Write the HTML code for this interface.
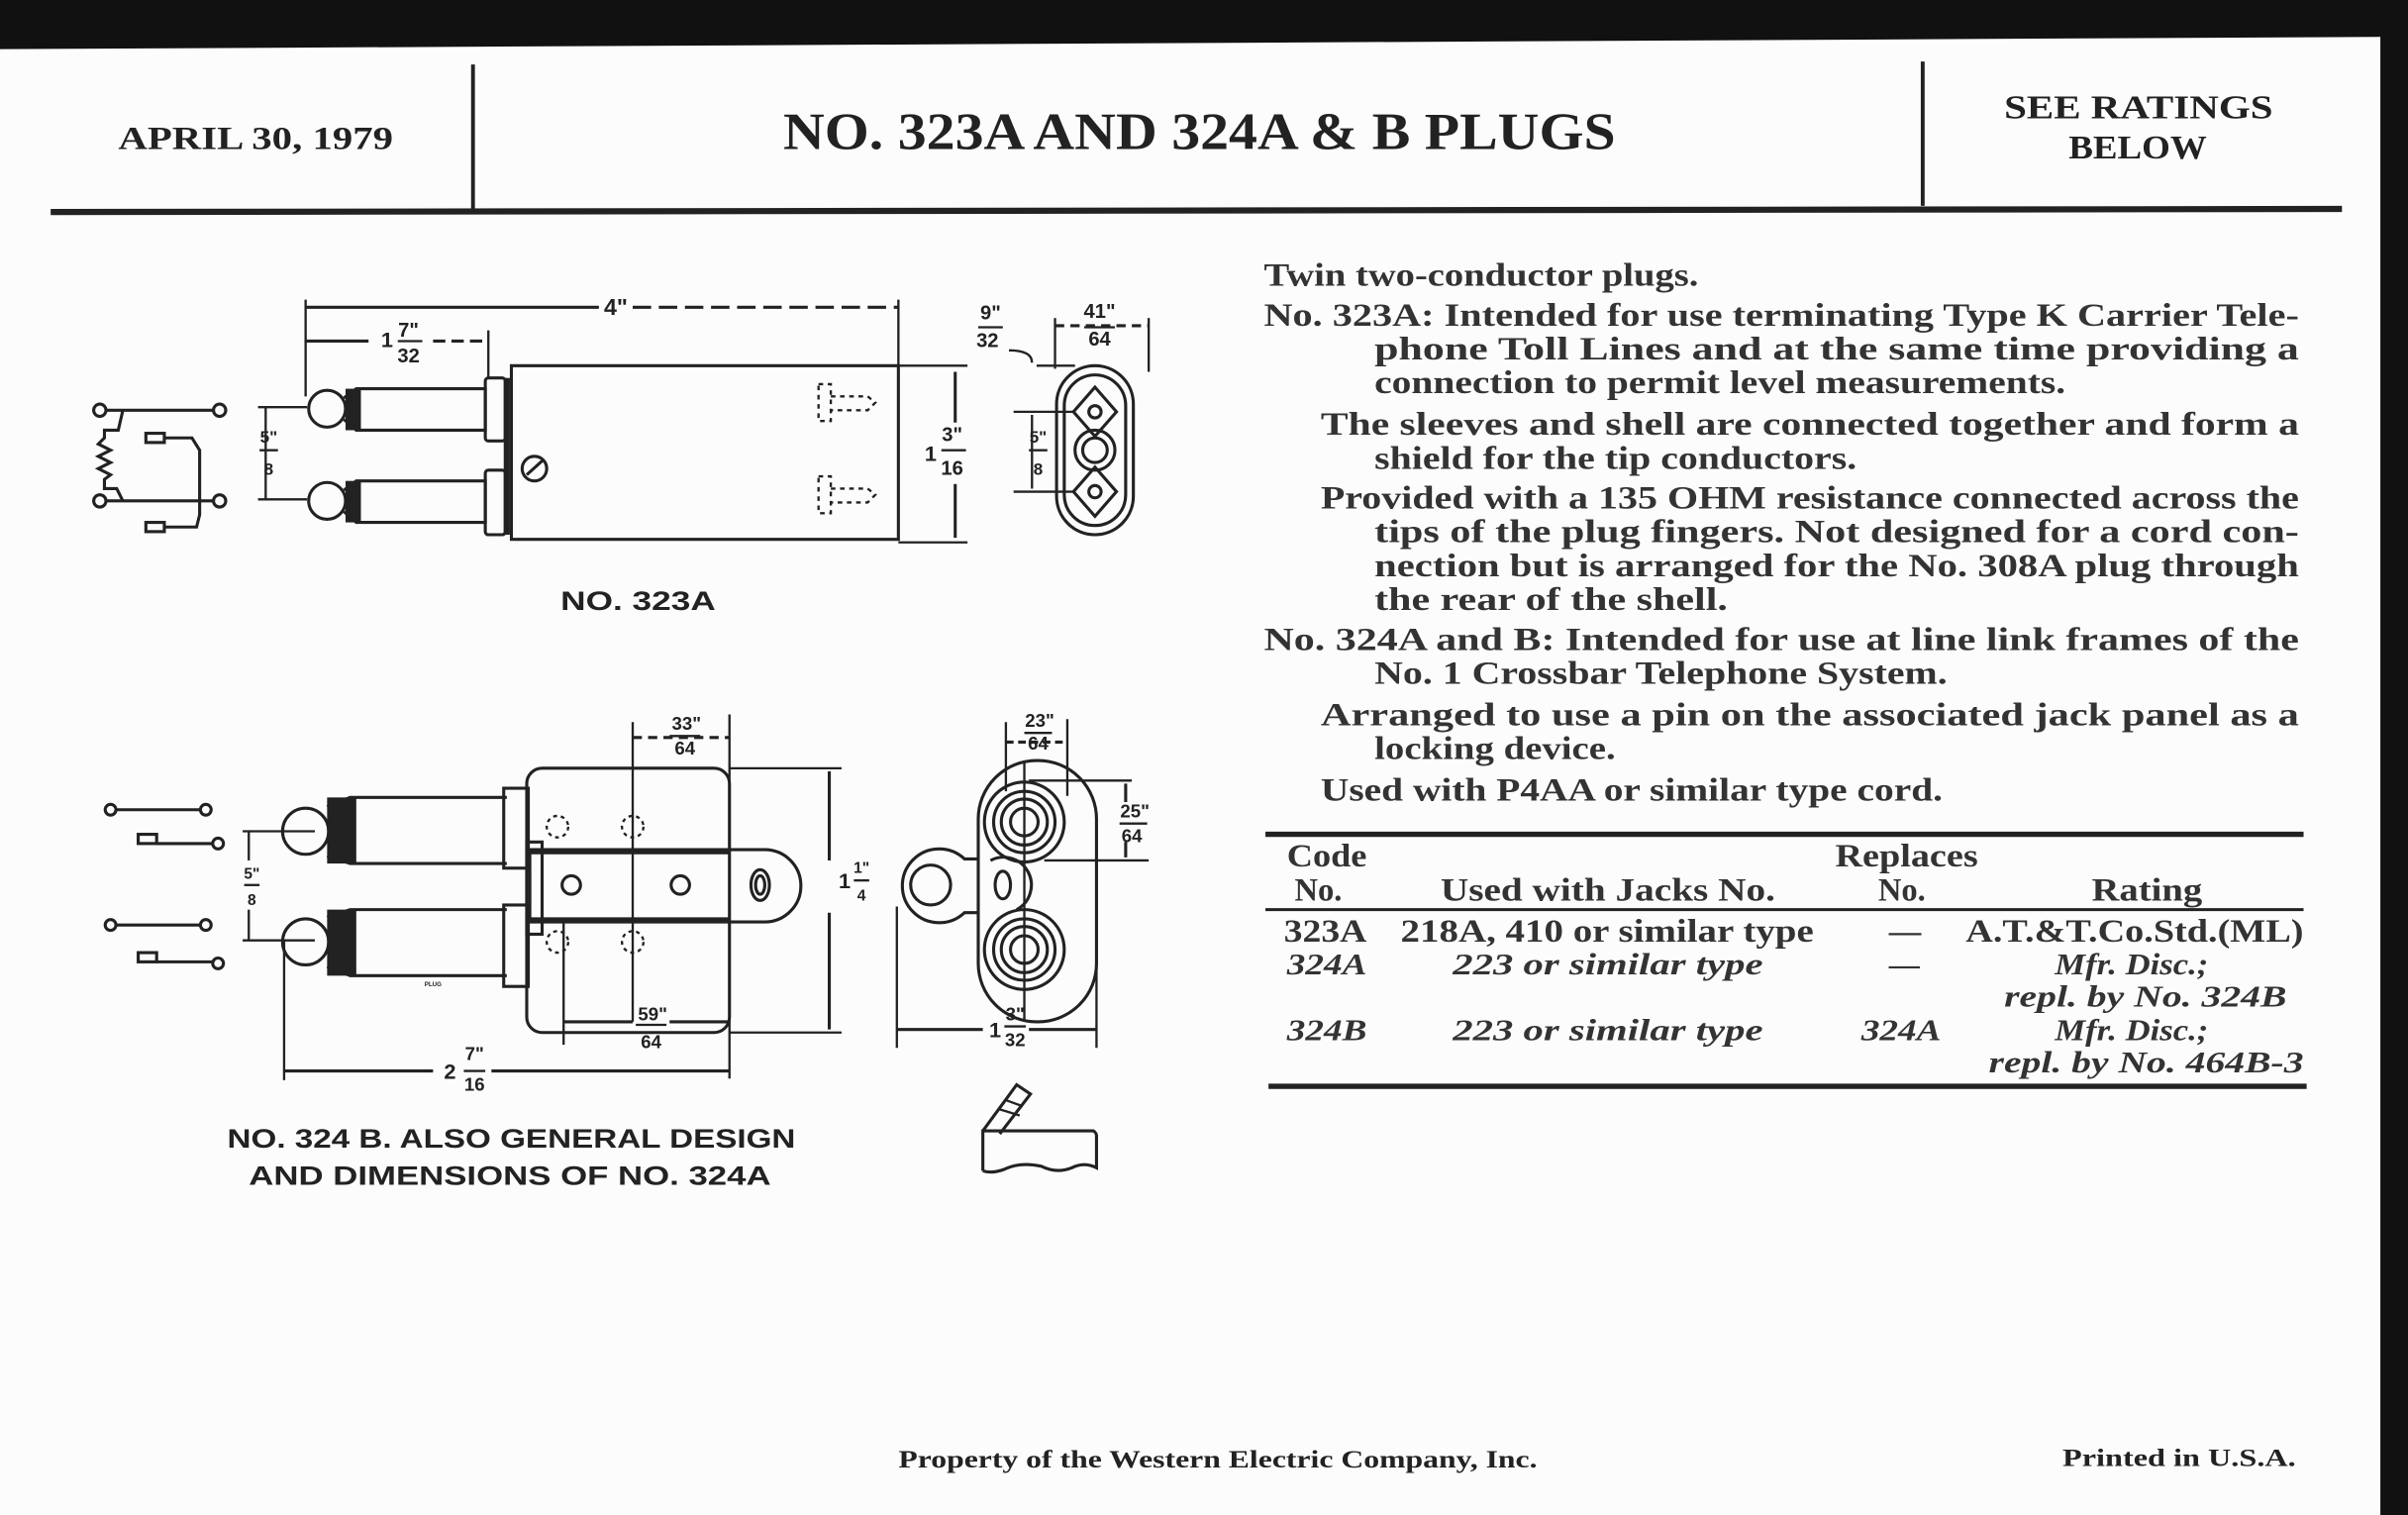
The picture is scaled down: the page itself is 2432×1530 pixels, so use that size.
<!DOCTYPE html>
<html><head><meta charset="utf-8"><style>
html,body{margin:0;padding:0;background:#fff;}
svg{display:block;}
.s{font-family:"Liberation Serif",serif;fill:#222;}
.d{font-family:"Liberation Sans",sans-serif;fill:#222;font-weight:bold;}
</style></head><body>
<svg width="2432" height="1530" viewBox="0 0 1568 986" preserveAspectRatio="none" xmlns="http://www.w3.org/2000/svg">
<rect width="1568" height="986" fill="#fcfcfc"/>
<polygon points="0,0 1568,0 1568,986 1550,986 1550,24 0,32" fill="#111"/>
<g stroke="#222" fill="none">
<line x1="308" y1="42" x2="308" y2="136" stroke-width="2.5"/>
<line x1="1252" y1="40" x2="1252" y2="134" stroke-width="2.5"/>
<line x1="33" y1="138" x2="1525" y2="136" stroke-width="4"/>
</g>
<text class="s" x="77" y="97" font-size="21" font-weight="bold" textLength="179" lengthAdjust="spacingAndGlyphs">APRIL 30, 1979</text>
<text class="s" x="510" y="97" font-size="34" font-weight="bold" textLength="542" lengthAdjust="spacingAndGlyphs">NO. 323A AND 324A &amp; B PLUGS</text>
<text class="s" x="1305" y="77" font-size="22" font-weight="bold" textLength="175" lengthAdjust="spacingAndGlyphs">SEE RATINGS</text>
<text class="s" x="1347" y="103" font-size="22" font-weight="bold" textLength="90" lengthAdjust="spacingAndGlyphs">BELOW</text>

<!-- Description text -->
<g class="s" font-size="21" font-weight="bold" style="fill:#333">
<text x="823" y="186" textLength="283" lengthAdjust="spacingAndGlyphs">Twin two-conductor plugs.</text>
<text x="823" y="212" textLength="674" lengthAdjust="spacingAndGlyphs">No. 323A: Intended for use terminating Type K Carrier Tele-</text>
<text x="895" y="234" textLength="602" lengthAdjust="spacingAndGlyphs">phone Toll Lines and at the same time providing a</text>
<text x="895" y="256" textLength="450" lengthAdjust="spacingAndGlyphs">connection to permit level measurements.</text>
<text x="860" y="283" textLength="637" lengthAdjust="spacingAndGlyphs">The sleeves and shell are connected together and form a</text>
<text x="895" y="305" textLength="314" lengthAdjust="spacingAndGlyphs">shield for the tip conductors.</text>
<text x="860" y="331" textLength="637" lengthAdjust="spacingAndGlyphs">Provided with a 135 OHM resistance connected across the</text>
<text x="895" y="353" textLength="602" lengthAdjust="spacingAndGlyphs">tips of the plug fingers. Not designed for a cord con-</text>
<text x="895" y="375" textLength="602" lengthAdjust="spacingAndGlyphs">nection but is arranged for the No. 308A plug through</text>
<text x="895" y="397" textLength="230" lengthAdjust="spacingAndGlyphs">the rear of the shell.</text>
<text x="823" y="423" textLength="674" lengthAdjust="spacingAndGlyphs">No. 324A and B: Intended for use at line link frames of the</text>
<text x="895" y="445" textLength="373" lengthAdjust="spacingAndGlyphs">No. 1 Crossbar Telephone System.</text>
<text x="860" y="472" textLength="637" lengthAdjust="spacingAndGlyphs">Arranged to use a pin on the associated jack panel as a</text>
<text x="895" y="494" textLength="157" lengthAdjust="spacingAndGlyphs">locking device.</text>
<text x="860" y="521" textLength="405" lengthAdjust="spacingAndGlyphs">Used with P4AA or similar type cord.</text>
</g>

<!-- Table -->
<g stroke="#222">
<line x1="824" y1="543" x2="1500" y2="543" stroke-width="3.5"/>
<line x1="824" y1="592" x2="1500" y2="592" stroke-width="2"/>
<line x1="826" y1="707" x2="1502" y2="707" stroke-width="3.5"/>
</g>
<g class="s" font-size="21" font-weight="bold" style="fill:#333">
<text x="838" y="564" textLength="52" lengthAdjust="spacingAndGlyphs">Code</text>
<text x="843" y="586">No.</text>
<text x="938" y="586" textLength="218" lengthAdjust="spacingAndGlyphs">Used with Jacks No.</text>
<text x="1195" y="564" textLength="93" lengthAdjust="spacingAndGlyphs">Replaces</text>
<text x="1223" y="586">No.</text>
<text x="1362" y="586" textLength="72" lengthAdjust="spacingAndGlyphs">Rating</text>
<text x="836" y="613" textLength="54" lengthAdjust="spacingAndGlyphs">323A</text>
<text x="912" y="613" textLength="269" lengthAdjust="spacingAndGlyphs">218A, 410 or similar type</text>
<text x="1230" y="613">—</text>
<text x="1280" y="613" textLength="220" lengthAdjust="spacingAndGlyphs">A.T.&amp;T.Co.Std.(ML)</text>
</g>
<g class="s" font-size="20" font-style="italic" font-weight="bold" style="fill:#333">
<text x="838" y="634" textLength="52" lengthAdjust="spacingAndGlyphs">324A</text>
<text x="946" y="634" textLength="202" lengthAdjust="spacingAndGlyphs">223 or similar type</text>
<text x="1230" y="634" font-style="normal">—</text>
<text x="1338" y="634" textLength="100" lengthAdjust="spacingAndGlyphs">Mfr. Disc.;</text>
<text x="1305" y="655" textLength="184" lengthAdjust="spacingAndGlyphs">repl. by No. 324B</text>
<text x="838" y="677" textLength="52" lengthAdjust="spacingAndGlyphs">324B</text>
<text x="946" y="677" textLength="202" lengthAdjust="spacingAndGlyphs">223 or similar type</text>
<text x="1212" y="677" textLength="52" lengthAdjust="spacingAndGlyphs">324A</text>
<text x="1338" y="677" textLength="100" lengthAdjust="spacingAndGlyphs">Mfr. Disc.;</text>
<text x="1295" y="698" textLength="205" lengthAdjust="spacingAndGlyphs">repl. by No. 464B-3</text>
</g>

<text class="s" x="585" y="955" font-size="16" font-weight="bold" textLength="416" lengthAdjust="spacingAndGlyphs">Property of the Western Electric Company, Inc.</text>
<text class="s" x="1343" y="954" font-size="16" font-weight="bold" textLength="152" lengthAdjust="spacingAndGlyphs">Printed in U.S.A.</text>

<!-- ===== 323A drawing ===== -->
<g stroke="#222" stroke-width="2" fill="none">
<circle cx="65" cy="267" r="4"/><circle cx="143" cy="267" r="4"/>
<circle cx="65" cy="326" r="4"/><circle cx="143" cy="326" r="4"/>
<line x1="69" y1="267" x2="139" y2="267"/><line x1="69" y1="326" x2="139" y2="326"/>
<polyline points="80,267 77,280 68,280 68,285 64,289 72,293 64,297 72,301 64,305 72,309 68,312 68,318 76,318 80,326"/>
<rect x="95" y="282" width="12" height="6"/><polyline points="107,285 125,285 130,293 130,326"/>
<rect x="95" y="340" width="12" height="6"/><polyline points="107,343 128,343 130,335 130,326"/>
<line x1="199" y1="200" x2="390" y2="200"/><line x1="412" y1="200" x2="585" y2="200" stroke-dasharray="12 5"/>
<line x1="199" y1="195" x2="199" y2="258" stroke-width="1.5"/><line x1="585" y1="195" x2="585" y2="238" stroke-width="1.5"/>
<line x1="199" y1="222" x2="240" y2="222"/><line x1="282" y1="222" x2="318" y2="222" stroke-dasharray="8 4"/>
<line x1="318" y1="215" x2="318" y2="246" stroke-width="1.5"/>
<line x1="173" y1="265" x2="173" y2="325" stroke-width="1.5"/>
<line x1="168" y1="265" x2="200" y2="265" stroke-width="1.5"/><line x1="168" y1="325" x2="200" y2="325" stroke-width="1.5"/>
<circle cx="213" cy="266" r="12"/><circle cx="213" cy="326" r="12"/>
<path d="M224,259 L232,253 L316,253 L316,280 L232,280 L224,273"/>
<path d="M224,319 L232,313 L316,313 L316,340 L232,340 L224,333"/>
<rect x="316" y="246" width="13" height="41" rx="2"/><rect x="316" y="306" width="13" height="42" rx="2"/>
<path d="M333,238 L585,238 L585,351 L333,351 Z"/>
<circle cx="348" cy="305" r="8"/><line x1="343" y1="309" x2="353" y2="300"/>
<g stroke-dasharray="3 3" stroke-width="1.5">
<rect x="533" y="250" width="8" height="24"/><path d="M541,258 L565,258 L570,262 L565,267 L541,267"/>
<rect x="533" y="310" width="8" height="24"/><path d="M541,318 L565,318 L570,322 L565,327 L541,327"/>
</g>
<line x1="585" y1="238" x2="630" y2="238" stroke-width="1.5"/><line x1="585" y1="353" x2="630" y2="353" stroke-width="1.5"/>
<line x1="622" y1="242" x2="622" y2="275"/><line x1="622" y1="315" x2="622" y2="350"/>
<rect x="688" y="238" width="50" height="110" rx="25"/>
<rect x="693" y="244" width="40" height="98" rx="20"/>
<polygon points="713,252 727,268 713,284 699,268"/><polygon points="713,304 727,320 713,336 699,320"/>
<circle cx="713" cy="293" r="13"/><circle cx="713" cy="293" r="8"/>
<circle cx="713" cy="268" r="4"/><circle cx="713" cy="320" r="4"/>
<line x1="660" y1="268" x2="700" y2="268" stroke-width="1.5"/><line x1="660" y1="320" x2="700" y2="320" stroke-width="1.5"/>
<line x1="672" y1="270" x2="672" y2="318" stroke-width="1.5"/>
<line x1="675" y1="238" x2="700" y2="238" stroke-width="1.5"/>
<path d="M657,228 Q672,228 672,236" stroke-width="1.5"/>
<line x1="687" y1="212" x2="748" y2="212" stroke-dasharray="6 4"/>
<line x1="687" y1="207" x2="687" y2="240" stroke-width="1.5"/><line x1="748" y1="207" x2="748" y2="242" stroke-width="1.5"/>
</g>
<g fill="#222">
<rect x="225" y="253" width="10" height="27"/><rect x="225" y="313" width="10" height="27"/>
<rect x="328" y="246" width="4" height="102"/>
</g>
<g class="d" font-size="13" text-anchor="middle">
<text x="401" y="205" font-size="15">4"</text>
<text x="252" y="226" font-size="14">1</text>
<text x="266" y="219">7"</text><line x1="259" y1="222" x2="275" y2="222" stroke="#222" stroke-width="1.5"/><text x="266" y="236">32</text>
<text x="175" y="288" font-size="11">5"</text><line x1="169" y1="293" x2="181" y2="293" stroke="#222" stroke-width="1.5"/><text x="175" y="309" font-size="11">8</text>
<text x="606" y="300" font-size="14">1</text>
<text x="620" y="287">3"</text><line x1="613" y1="293" x2="629" y2="293" stroke="#222" stroke-width="1.5"/><text x="620" y="309">16</text>
<text x="645" y="208">9"</text><line x1="637" y1="213" x2="653" y2="213" stroke="#222" stroke-width="1.5"/><text x="643" y="226">32</text>
<text x="716" y="207">41"</text><line x1="706" y1="213" x2="726" y2="213" stroke="#222" stroke-width="1.5"/><text x="716" y="225">64</text>
<text x="676" y="288" font-size="11">5"</text><line x1="670" y1="293" x2="682" y2="293" stroke="#222" stroke-width="1.5"/><text x="676" y="309" font-size="11">8</text>
<text x="365" y="397" font-size="17" text-anchor="start" textLength="101" lengthAdjust="spacingAndGlyphs">NO. 323A</text>
</g>

<!-- ===== 324B drawing ===== -->
<g stroke="#222" stroke-width="2" fill="none">
<circle cx="72" cy="527" r="3.5"/><circle cx="134" cy="527" r="3.5"/><line x1="75" y1="527" x2="131" y2="527"/>
<rect x="90" y="543" width="12" height="6"/><line x1="102" y1="549" x2="139" y2="549"/><circle cx="142" cy="549" r="3.5"/>
<circle cx="72" cy="602" r="3.5"/><circle cx="134" cy="602" r="3.5"/><line x1="75" y1="602" x2="131" y2="602"/>
<rect x="90" y="620" width="12" height="6"/><line x1="102" y1="626" x2="139" y2="626"/><circle cx="142" cy="627" r="3.5"/>
<line x1="162" y1="541" x2="162" y2="560" stroke-width="1.5"/><line x1="162" y1="592" x2="162" y2="612" stroke-width="1.5"/>
<line x1="158" y1="541" x2="205" y2="541" stroke-width="1.5"/><line x1="158" y1="612" x2="205" y2="612" stroke-width="1.5"/>
<path d="M213,525 L228,519 L330,519 M213,557 L228,562 L330,562"/>
<path d="M213,597 L228,592 L330,592 M213,629 L228,635 L330,635"/>
<circle cx="199" cy="541" r="15"/><circle cx="199" cy="613" r="15"/>
<rect x="328" y="513" width="16" height="52"/><rect x="328" y="589" width="16" height="53"/>
<rect x="343" y="500" width="132" height="172" rx="10"/>
<path d="M345,553 L498,553 A23,23 0 0 1 498,600 L345,600 Z"/>
<rect x="343" y="548" width="10" height="60"/>
<circle cx="372" cy="576" r="6"/><circle cx="443" cy="576" r="6"/>
<ellipse cx="495" cy="576" rx="6" ry="10"/><ellipse cx="495" cy="576" rx="3" ry="6"/>
<g stroke-dasharray="2.5 2.5" stroke-width="1.5">
<circle cx="363" cy="538" r="7"/><circle cx="412" cy="538" r="7"/>
<circle cx="363" cy="613" r="7"/><circle cx="412" cy="613" r="7"/>
</g>
<line x1="412" y1="470" x2="412" y2="665" stroke-width="1.5"/>
<line x1="475" y1="465" x2="475" y2="702" stroke-width="1.5"/>
<line x1="412" y1="480" x2="475" y2="480" stroke-dasharray="6 4"/>
<line x1="475" y1="500" x2="548" y2="500" stroke-width="1.5"/><line x1="475" y1="672" x2="548" y2="672" stroke-width="1.5"/>
<line x1="540" y1="502" x2="540" y2="560"/><line x1="540" y1="594" x2="540" y2="670"/>
<line x1="367" y1="600" x2="367" y2="680" stroke-width="1.5"/>
<line x1="367" y1="665" x2="412" y2="665"/><line x1="436" y1="665" x2="475" y2="665"/>
<line x1="185" y1="612" x2="185" y2="703" stroke-width="1.5"/>
<line x1="185" y1="697" x2="282" y2="697"/><line x1="320" y1="697" x2="475" y2="697"/>
<rect x="637" y="495" width="77" height="170" rx="38"/>
<line x1="667" y1="495" x2="667" y2="665" stroke-width="1.5"/>
<circle cx="667" cy="535" r="26"/><circle cx="667" cy="535" r="20"/><circle cx="667" cy="535" r="15"/><circle cx="667" cy="535" r="9"/>
<circle cx="667" cy="618" r="26"/><circle cx="667" cy="618" r="20"/><circle cx="667" cy="618" r="15"/><circle cx="667" cy="618" r="9"/>
<path d="M637,559 L628,559 A24,24 0 1 0 628,594 L637,594"/>
<circle cx="606" cy="576" r="13"/>
<ellipse cx="653" cy="576" rx="5" ry="9"/><path d="M645,560 A18,18 0 0 1 662,592"/>
<line x1="655" y1="470" x2="655" y2="515" stroke-width="1.5"/><line x1="695" y1="468" x2="695" y2="518" stroke-width="1.5"/>
<line x1="655" y1="483" x2="695" y2="483" stroke-dasharray="5 3"/>
<line x1="670" y1="508" x2="737" y2="508" stroke-width="1.5"/><line x1="680" y1="560" x2="748" y2="560" stroke-width="1.5"/>
<line x1="733" y1="510" x2="733" y2="522"/><line x1="733" y1="548" x2="733" y2="558"/>
<line x1="584" y1="590" x2="584" y2="682" stroke-width="1.5"/><line x1="714" y1="620" x2="714" y2="682" stroke-width="1.5"/>
<line x1="584" y1="670" x2="640" y2="670"/><line x1="670" y1="670" x2="714" y2="670"/>
<path d="M640,762 L640,736 L712,736 A4,4 0 0 1 714,740 L714,760 Q706,756 698,760 Q688,764 678,759 Q664,756 654,761 Q646,764 640,762"/>
<path d="M640,736 L662,706 L671,712 L651,738"/>
<line x1="651" y1="722" x2="664" y2="726" stroke-width="1.5"/><line x1="655" y1="716" x2="666" y2="720" stroke-width="1.5"/>
</g>
<g fill="#222">
<rect x="213" y="519" width="19" height="43"/><rect x="213" y="592" width="19" height="43"/>
<rect x="345" y="553" width="130" height="3"/><rect x="345" y="597" width="130" height="3"/>
</g>
<g class="d" font-size="12" text-anchor="middle">
<text x="164" y="572" font-size="10">5"</text><line x1="159" y1="576" x2="169" y2="576" stroke="#222" stroke-width="1.5"/><text x="164" y="589" font-size="10">8</text>
<text x="447" y="475">33"</text><line x1="436" y1="479" x2="456" y2="479" stroke="#222" stroke-width="1.5"/><text x="446" y="491">64</text>
<text x="550" y="578" font-size="14">1</text>
<text x="561" y="568" font-size="10">1"</text><line x1="556" y1="573" x2="566" y2="573" stroke="#222" stroke-width="1.5"/><text x="561" y="586" font-size="10">4</text>
<text x="425" y="664">59"</text><line x1="414" y1="667" x2="434" y2="667" stroke="#222" stroke-width="1.5"/><text x="424" y="682">64</text>
<text x="293" y="702" font-size="14">2</text>
<text x="309" y="690">7"</text><line x1="302" y1="697" x2="316" y2="697" stroke="#222" stroke-width="1.5"/><text x="309" y="710">16</text>
<text x="677" y="473">23"</text><line x1="667" y1="477" x2="685" y2="477" stroke="#222" stroke-width="1.5"/><text x="676" y="488">64</text>
<text x="739" y="532">25"</text><line x1="729" y1="536" x2="747" y2="536" stroke="#222" stroke-width="1.5"/><text x="737" y="548">64</text>
<text x="648" y="675" font-size="14">1</text>
<text x="661" y="664">3"</text><line x1="654" y1="668" x2="668" y2="668" stroke="#222" stroke-width="1.5"/><text x="661" y="681">32</text>
<text x="282" y="642" font-size="4">PLUG</text>
<text x="148" y="747" font-size="17" text-anchor="start" textLength="370" lengthAdjust="spacingAndGlyphs">NO. 324 B. ALSO GENERAL DESIGN</text>
<text x="162" y="771" font-size="17" text-anchor="start" textLength="340" lengthAdjust="spacingAndGlyphs">AND  DIMENSIONS OF NO. 324A</text>
</g>
</svg>
</body></html>
